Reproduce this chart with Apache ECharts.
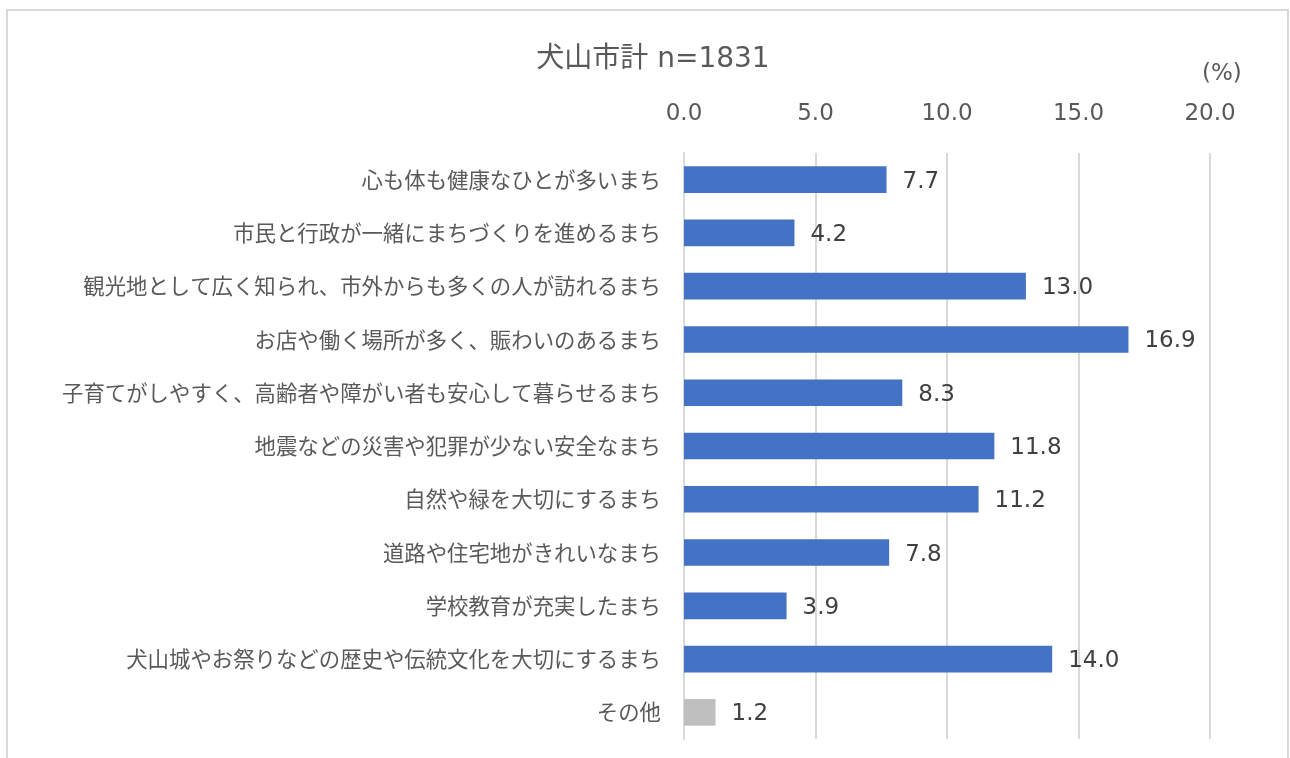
<!DOCTYPE html>
<html><head><meta charset="utf-8">
<script src="https://cdn.jsdelivr.net/npm/echarts@6/dist/echarts.min.js"></script>
<style>html,body{margin:0;padding:0;background:#fff;}#c{width:1290px;height:758px;}</style>
</head><body><div id="c"></div>
<script>
const categories = [
  "心も体も健康なひとが多いまち",
  "市民と行政が一緒にまちづくりを進めるまち",
  "観光地として広く知られ、市外からも多くの人が訪れるまち",
  "お店や働く場所が多く、賑わいのあるまち",
  "子育てがしやすく、高齢者や障がい者も安心して暮らせるまち",
  "地震などの災害や犯罪が少ない安全なまち",
  "自然や緑を大切にするまち",
  "道路や住宅地がきれいなまち",
  "学校教育が充実したまち",
  "犬山城やお祭りなどの歴史や伝統文化を大切にするまち",
  "その他"
];
const values = [7.7, 4.2, 13.0, 16.9, 8.3, 11.8, 11.2, 7.8, 3.9, 14.0, 1.2];
const titleText = "犬山市計 n=1831";
const unitText = "(%)";
const numFont = "'DejaVu Sans', 'Noto Sans CJK JP', sans-serif";
const jpFont = "'Noto Sans CJK JP', sans-serif";

const chart = echarts.init(document.getElementById('c'), null, {renderer: 'canvas'});
chart.setOption({
  animation: false,
  backgroundColor: '#fff',
  title: {
    text: titleText, left: 648, top: 41, textAlign: 'center',
    textStyle: {fontFamily: numFont, fontSize: 28, fontWeight: 'normal', color: '#595959'}
  },
  graphic: [
    {type: 'rect', shape: {x: 7, y: 10, width: 1281, height: 800}, style: {fill: 'none', stroke: '#d9d9d9', lineWidth: 2}, silent: true},
    {type: 'text', left: 1202, top: 63, style: {text: unitText, font: '23px ' + numFont, fill: '#595959'}}
  ],
  grid: {left: 684, right: 80, top: 153, bottom: 19, containLabel: false},
  xAxis: {
    type: 'value', position: 'top', min: 0, max: 20, interval: 5,
    axisLine: {show: false}, axisTick: {show: false},
    splitLine: {show: true, lineStyle: {color: '#d9d9d9', width: 2}},
    axisLabel: {margin: 27, fontSize: 23, fontFamily: numFont, color: '#595959',
      formatter: v => v.toFixed(1)}
  },
  yAxis: {
    type: 'category', data: categories, inverse: true,
    axisLine: {show: true, lineStyle: {color: '#d9d9d9', width: 2}}, axisTick: {show: false},
    axisLabel: {margin: 23, fontSize: 21.4, fontFamily: jpFont, color: '#595959'}
  },
  series: [{
    type: 'bar', barWidth: '50%',
    data: values.map((v, i) => ({value: v, itemStyle: {color: i === values.length - 1 ? '#bfbfbf' : '#4472c4'}})),
    label: {show: true, position: 'right', distance: 16, fontSize: 23, fontFamily: numFont, color: '#404040',
      offset: [0, 2], formatter: p => p.value.toFixed(1)}
  }]
});
</script></body></html>
